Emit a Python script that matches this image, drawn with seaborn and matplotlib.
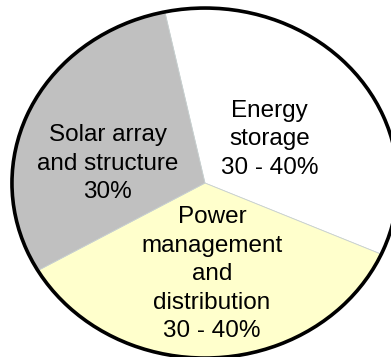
import matplotlib
matplotlib.use("Agg")
import matplotlib.pyplot as plt
import seaborn as sns

sns.set_theme(style="white")
plt.rcParams['font.family'] = ['Liberation Sans', 'DejaVu Sans']

# shares of the power subsystem mass
labels = ['Energy\nstorage\n30 - 40%',
          'Power\nmanagement\nand\ndistribution\n30 - 40%',
          'Solar array\nand structure\n30%']
shares = [35, 35, 30]
colors = ['#FFFFFF', '#FFFFCC', '#C0C0C0']

fig = plt.figure(figsize=(3.91, 3.57), dpi=100)
ax = fig.add_axes([0, 0, 1, 1])

ax.pie(shares, colors=colors, startangle=102, counterclock=False,
       wedgeprops=dict(edgecolor='#c8d0d0', linewidth=0.6))
# black outline around the whole pie
ax.pie([1], colors=['none'],
       wedgeprops=dict(edgecolor='black', linewidth=2.6, fill=False))

ax.set_aspect('auto')
ax.set_xlim(-1.062, 0.964)
ax.set_ylim(-0.994, 1.046)

label_pos = [(0.335, 0.25), (0.036, -0.52), (-0.503, 0.11)]
for txt, (x, y) in zip(labels, label_pos):
    ax.text(x, y, txt, ha='center', va='center', fontsize=17.5,
            color='black', linespacing=1.38)

ax.axis('off')
fig.savefig('out.png', dpi=100)
